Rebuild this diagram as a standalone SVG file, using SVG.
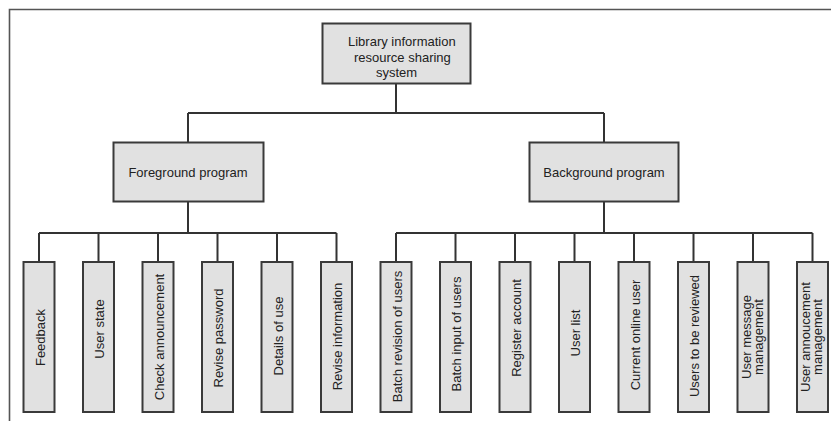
<svg xmlns="http://www.w3.org/2000/svg" width="831" height="421" viewBox="0 0 831 421">
<style>
.box{fill:#e1e1e1;stroke:#3a3a3a;stroke-width:2}
.ln{fill:none;stroke:#333;stroke-width:2}
.frame{fill:none;stroke:#555;stroke-width:1.6}
text{font-family:"Liberation Sans",Arial,sans-serif;font-size:13px;fill:#222}
.v{text-anchor:middle}
</style>
<rect width="831" height="421" fill="#fff"/>
<path class="frame" d="M9.5 421 V9.5 H831"/>
<g id="connectors">
<path class="ln" d="M396 84 V113 M188 113 H604 M188 113 V142 M604 113 V142"/>
<path class="ln" d="M188 202 V233 M39 233 H336.5 M39 233 V262 M98.5 233 V262 M158 233 V262 M217.5 233 V262 M277 233 V262 M336.5 233 V262"/>
<path class="ln" d="M604 202 V233 M396 233 H812.5 M396 233 V262 M455.5 233 V262 M515 233 V262 M574.5 233 V262 M634 233 V262 M693.5 233 V262 M753 233 V262 M812.5 233 V262"/>
</g>
<g id="root">
<rect class="box" x="322.5" y="23.5" width="148" height="60"/>
<text x="348" y="46">Library information</text>
<text x="354" y="62">resource sharing</text>
<text x="376" y="77">system</text>
</g>
<g id="foreground">
<rect class="box" x="113.5" y="142.5" width="150" height="59"/>
<text class="v" x="188" y="177">Foreground program</text>
</g>
<g id="background">
<rect class="box" x="529.5" y="142.5" width="149" height="59"/>
<text class="v" x="604" y="177">Background program</text>
</g>
<g id="feedback">
<rect class="box" x="23.5" y="262" width="31" height="150"/>
<text class="v" transform="translate(44.5 337.5) rotate(-90)">Feedback</text>
</g>
<g id="user-state">
<rect class="box" x="83" y="262" width="31" height="150"/>
<text class="v" transform="translate(104 329) rotate(-90)">User state</text>
</g>
<g id="check-announcement">
<rect class="box" x="142.5" y="262" width="31" height="150"/>
<text class="v" transform="translate(163.5 337) rotate(-90)">Check announcement</text>
</g>
<g id="revise-password">
<rect class="box" x="202" y="262" width="31" height="150"/>
<text class="v" transform="translate(223 338) rotate(-90)">Revise password</text>
</g>
<g id="details-of-use">
<rect class="box" x="261.5" y="262" width="31" height="150"/>
<text class="v" transform="translate(282.5 336) rotate(-90)">Details of use</text>
</g>
<g id="revise-information">
<rect class="box" x="321" y="262" width="31" height="150"/>
<text class="v" transform="translate(342 336.5) rotate(-90)">Revise information</text>
</g>
<g id="batch-revision">
<rect class="box" x="380.5" y="262" width="31" height="150"/>
<text class="v" transform="translate(401.5 336.5) rotate(-90)">Batch revision of users</text>
</g>
<g id="batch-input">
<rect class="box" x="440" y="262" width="31" height="150"/>
<text class="v" transform="translate(461 334) rotate(-90)">Batch input of users</text>
</g>
<g id="register-account">
<rect class="box" x="499.5" y="262" width="31" height="150"/>
<text class="v" transform="translate(520.5 328) rotate(-90)">Register account</text>
</g>
<g id="user-list">
<rect class="box" x="559" y="262" width="31" height="150"/>
<text class="v" transform="translate(580 333) rotate(-90)">User list</text>
</g>
<g id="current-online-user">
<rect class="box" x="618.5" y="262" width="31" height="150"/>
<text class="v" transform="translate(639.5 335) rotate(-90)">Current online user</text>
</g>
<g id="users-to-be-reviewed">
<rect class="box" x="678" y="262" width="31" height="150"/>
<text class="v" transform="translate(699 336) rotate(-90)">Users to be reviewed</text>
</g>
<g id="user-message-management">
<rect class="box" x="737.5" y="262" width="31" height="150"/>
<text class="v" transform="translate(750.5 337) rotate(-90)">User message</text>
<text class="v" transform="translate(762.5 337) rotate(-90)">management</text>
</g>
<g id="user-announcement-management">
<rect class="box" x="797" y="262" width="31" height="150"/>
<text class="v" transform="translate(810 337) rotate(-90)">User annoucement</text>
<text class="v" transform="translate(822 337) rotate(-90)">management</text>
</g>
</svg>
